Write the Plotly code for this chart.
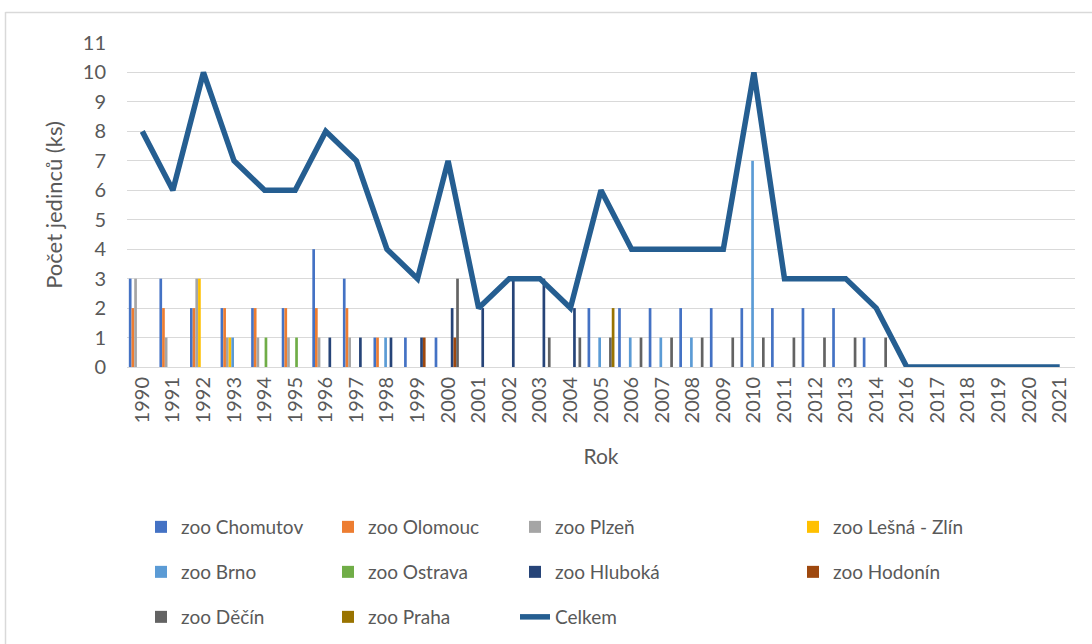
import plotly.graph_objects as go

years = ["1990", "1991", "1992", "1993", "1994", "1995", "1996", "1997", "1998", "1999",
         "2000", "2001", "2002", "2003", "2004", "2005", "2006", "2007", "2008", "2009",
         "2010", "2011", "2012", "2013", "2014", "2016", "2017", "2018", "2019", "2020", "2021"]

chomutov = [3, 3, 2, 2, 2, 2, 4, 3, 1, 1, 1, 0, 0, 0, 0, 2, 2, 2, 2, 2, 2, 2, 2, 2, 1, 0, 0, 0, 0, 0, 0]
olomouc  = [2, 2, 2, 2, 2, 2, 2, 2, 1, 0, 0, 0, 0, 0, 0, 0, 0, 0, 0, 0, 0, 0, 0, 0, 0, 0, 0, 0, 0, 0, 0]
plzen    = [3, 1, 3, 1, 1, 1, 1, 1, 0, 0, 0, 0, 0, 0, 0, 0, 0, 0, 0, 0, 0, 0, 0, 0, 0, 0, 0, 0, 0, 0, 0]
lesna    = [0, 0, 3, 1, 0, 0, 0, 0, 0, 0, 0, 0, 0, 0, 0, 0, 0, 0, 0, 0, 0, 0, 0, 0, 0, 0, 0, 0, 0, 0, 0]
brno     = [0, 0, 0, 1, 0, 0, 0, 0, 1, 0, 0, 0, 0, 0, 0, 1, 1, 1, 1, 0, 7, 0, 0, 0, 0, 0, 0, 0, 0, 0, 0]
ostrava  = [0, 0, 0, 0, 1, 1, 0, 0, 0, 0, 0, 0, 0, 0, 0, 0, 0, 0, 0, 0, 0, 0, 0, 0, 0, 0, 0, 0, 0, 0, 0]
hluboka  = [0, 0, 0, 0, 0, 0, 1, 1, 1, 1, 2, 2, 3, 3, 2, 0, 0, 0, 0, 0, 0, 0, 0, 0, 0, 0, 0, 0, 0, 0, 0]
hodonin  = [0, 0, 0, 0, 0, 0, 0, 0, 0, 1, 1, 0, 0, 0, 0, 0, 0, 0, 0, 0, 0, 0, 0, 0, 0, 0, 0, 0, 0, 0, 0]
decin    = [0, 0, 0, 0, 0, 0, 0, 0, 0, 0, 3, 0, 0, 1, 1, 1, 1, 1, 1, 1, 1, 1, 1, 1, 1, 0, 0, 0, 0, 0, 0]
praha    = [0, 0, 0, 0, 0, 0, 0, 0, 0, 0, 0, 0, 0, 0, 0, 2, 0, 0, 0, 0, 0, 0, 0, 0, 0, 0, 0, 0, 0, 0, 0]
celkem   = [8, 6, 10, 7, 6, 6, 8, 7, 4, 3, 7, 2, 3, 3, 2, 6, 4, 4, 4, 4, 10, 3, 3, 3, 2, 0, 0, 0, 0, 0, 0]

series = [
    ("zoo Chomutov", chomutov, "#4472C4", "legend"),
    ("zoo Olomouc", olomouc, "#ED7D31", "legend"),
    ("zoo Plzeň", plzen, "#A5A5A5", "legend"),
    ("zoo Lešná - Zlín", lesna, "#FFC000", "legend2"),
    ("zoo Brno", brno, "#5B9BD5", "legend3"),
    ("zoo Ostrava", ostrava, "#70AD47", "legend3"),
    ("zoo Hluboká", hluboka, "#264478", "legend3"),
    ("zoo Hodonín", hodonin, "#9E480E", "legend4"),
    ("zoo Děčín", decin, "#636363", "legend5"),
    ("zoo Praha", praha, "#997300", "legend5"),
]

FONT = "Lato"
TXT = "#595959"

fig = go.Figure()
for name, vals, color, lg in series:
    fig.add_trace(go.Bar(x=years, y=vals, name=name, marker=dict(color=color, line=dict(width=0)),
                         legend=lg))
fig.add_trace(go.Scatter(x=years, y=celkem, name="Celkem", mode="lines",
                         line=dict(color="#255E91", width=5.5), legend="legend5"))

L, R, T, B = 127, 17, 43, 277
W, H = 1092, 644
pw, ph = W - L - R, H - T - B

def px(x):
    return (x - L) / pw

def py(y):
    return (H - B - y) / ph

def cx(x):
    return x / W

def cy(y):
    return 1 - y / H

leg_common = dict(orientation="h", xanchor="left", yanchor="middle",
                  xref="container", yref="container",
                  font=dict(family=FONT, size=19, color=TXT),
                  entrywidth=142, entrywidthmode="pixels", bgcolor="rgba(0,0,0,0)",
                  traceorder="normal")

fig.update_layout(
    width=W, height=H,
    margin=dict(l=L, r=R, t=T, b=B),
    paper_bgcolor="white", plot_bgcolor="white",
    font=dict(family=FONT, size=19, color=TXT),
    barmode="group", bargap=0.12, bargroupgap=0,
    legend=dict(x=cx(141), y=cy(527), **leg_common),
    legend2=dict(x=cx(793), y=cy(527), **leg_common),
    legend3=dict(x=cx(141), y=cy(572), **leg_common),
    legend4=dict(x=cx(793), y=cy(572), **leg_common),
    legend5=dict(x=cx(141), y=cy(617), **leg_common),
    xaxis=dict(type="category", tickangle=-90, showgrid=False, ticks="",
               ticklabelstandoff=5,
               tickfont=dict(family=FONT, size=20, color=TXT),
               title=dict(text="Rok", font=dict(family=FONT, size=21, color=TXT), standoff=26),
               showline=False, automargin=False),
    yaxis=dict(range=[0, 11], dtick=1, showgrid=True, gridcolor="#D9D9D9", gridwidth=1,
               zeroline=True, zerolinecolor="#D9D9D9", zerolinewidth=1, ticks="",
               ticklabelstandoff=20,
               tickfont=dict(family=FONT, size=20, color=TXT),
               title=dict(text="Počet jedinců (ks)", font=dict(family=FONT, size=22, color=TXT), standoff=14),
               automargin=False),
    shapes=[
        dict(type="line", xref="paper", yref="paper", x0=px(5.5), x1=px(5.5), y0=py(12), y1=py(650),
             line=dict(color="#D9D9D9", width=1.5)),
        dict(type="line", xref="paper", yref="paper", x0=px(5.5), x1=px(1100), y0=py(12.5), y1=py(12.5),
             line=dict(color="#D9D9D9", width=1.5)),
    ],
)

fig.write_html("out.html", config={"displayModeBar": False},
               post_script="document.body.style.margin='0';")
